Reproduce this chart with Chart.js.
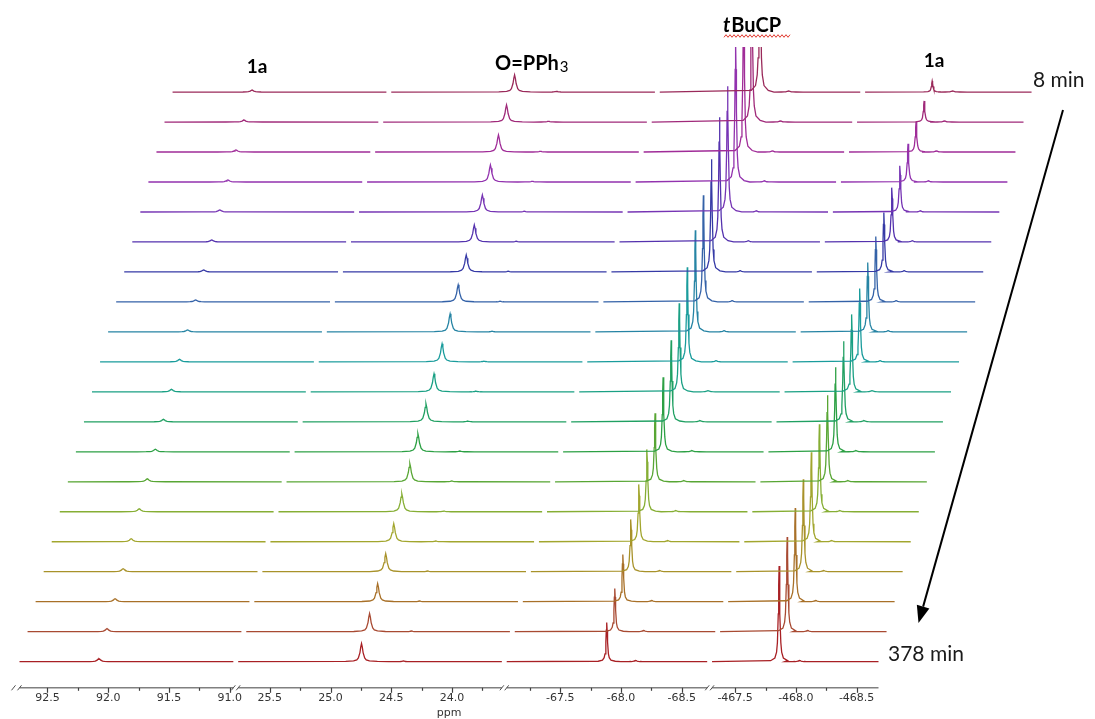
<!DOCTYPE html>
<html>
<head>
<meta charset="utf-8">
<title>31P NMR stack</title>
<script src="https://cdn.jsdelivr.net/npm/chart.js@4.4.1/dist/chart.umd.min.js"></script>
<style>
  html, body { margin: 0; padding: 0; background: #fff; }
</style>
</head>
<body>
<canvas id="stackChart" width="1095" height="719"></canvas>
<script>
// traces ordered by reaction time: first = 8 min (top of stack), last = 378 min (bottom)
var traceColors = [
    '#9a2a5a', '#a02a7a', '#a02c98', '#9232ae', '#7634b4',
    '#5432ae', '#363aa6', '#3462a8', '#2684a4', '#1a9c9c',
    '#1aa084', '#20a062', '#2ca044', '#58a634', '#86ae34',
    '#a2a62e', '#a8922a', '#a87028', '#a84a32', '#a82024'
];
var tbucpHeights = [170, 160, 150, 140, 125, 124, 112, 106, 101, 94, 88, 81, 74, 68, 62, 57, 52, 47, 43, 39];
var highField1aHeights = [11, 21, 30, 38, 46, 54, 59, 65, 69, 73, 77, 80, 84, 86, 87, 89, 92, 93, 94, 95];
var oPPh3Heights = [17, 17, 17, 17, 17, 17, 17, 17, 18, 18, 18, 18, 18, 18, 18, 18, 18, 18, 18, 18];
var lowField1aHeights = [2, 2, 2, 2, 2, 2, 2, 2, 2, 2.5, 2.5, 2.5, 2.5, 3, 3, 3, 3, 3, 3, 3];

// chemical shifts (ppm) and half widths (ppm)
var shifts = { lowField1a: 92.076, oPPh3: 24.745, tBuCP: -67.883, highField1a: -467.862 };
var halfWidths = { lowField1a: 0.015, oPPh3: 0.013, tBuCP: 0.007, highField1a: 0.007 };
// small signals present in every trace: [ppm, height]
var minorSignals = [[24.40, 0.7], [-68.12, 1.2], [-468.03, 1.2]];

// broken ppm axis
var axisSegments = [[92.73, 90.97], [25.76, 23.59], [-67.06, -68.71], [-467.31, -468.68]];
var majorTicks = ['92.5', '92.0', '91.5', '91.0', '25.5', '25.0', '24.5', '24.0',
                  '-67.5', '-68.0', '-68.5', '-467.5', '-468.0', '-468.5'];
var minorTicks = [92.25, 91.75, 91.25, 25.25, 24.75, 24.25, 23.75,
                  -67.25, -67.75, -68.25, -467.75, -468.25];
var timeLabels = ['8 min', '378 min'];

// Lorentzian line shape: [offset in half widths, relative height]
var lineShape = [[-10, 0.01], [-5, 0.038], [-3, 0.1], [-2, 0.2], [-1, 0.5], [-0.5, 0.8], [0, 1],
                 [0.5, 0.8], [1, 0.5], [2, 0.2], [3, 0.1], [5, 0.038], [10, 0.01]];

var breakGap = 0.04;     // gap between axis pieces, ppm units
var stackDx = 0.0663;    // horizontal shift per trace
var stackDy = 29.8;      // vertical shift per trace

// position of each axis piece on a continuous scale
var segU = [];
(function () {
    var acc = 0;
    axisSegments.forEach(function (seg) {
        segU.push(acc);
        acc += (seg[0] - seg[1]) + breakGap;
    });
})();

function ppmToU(ppm) {
    for (var j = 0; j < axisSegments.length; j++) {
        var seg = axisSegments[j];
        if (ppm <= seg[0] + 1e-9 && ppm >= seg[1] - 1e-9) return segU[j] + seg[0] - ppm;
    }
    return null;
}

var tickList = majorTicks.map(function (t) { return { u: ppmToU(parseFloat(t)), label: t, major: true }; })
    .concat(minorTicks.map(function (p) { return { u: ppmToU(p), label: '', major: false }; }));

var N = traceColors.length;

var datasets = traceColors.map(function (color, k) {
    var s = N - 1 - k;
    var dx = s * stackDx, dy = s * stackDy;
    var peaks = [
        [shifts.lowField1a, lowField1aHeights[k], halfWidths.lowField1a],
        [shifts.oPPh3, oPPh3Heights[k], halfWidths.oPPh3],
        [shifts.tBuCP, tbucpHeights[k], halfWidths.tBuCP],
        [shifts.highField1a, highField1aHeights[k], halfWidths.highField1a]
    ].concat(minorSignals.map(function (m) { return [m[0], m[1], 0.012]; }));

    var pts = [];
    axisSegments.forEach(function (seg) {
        var inSeg = peaks.filter(function (p) { return p[0] <= seg[0] && p[0] >= seg[1]; })
                         .sort(function (a, b) { return b[0] - a[0]; });
        pts.push({ x: ppmToU(seg[0]) + dx, y: dy });
        inSeg.forEach(function (p) {
            var uc = ppmToU(p[0]) + dx;
            lineShape.forEach(function (ls) {
                pts.push({ x: uc + ls[0] * p[2], y: dy + ls[1] * p[1] });
            });
        });
        pts.push({ x: ppmToU(seg[1]) + dx, y: dy });
        pts.push({ x: ppmToU(seg[1]) + dx, y: null });
    });

    return {
        label: 'trace ' + (k + 1),
        data: pts,
        borderColor: color,
        borderWidth: 1.3,
        pointRadius: 0,
        tension: 0,
        spanGaps: false,
        fill: false
    };
});

// axis line, tick marks, break marks and annotations
var nmrOverlay = {
    id: 'nmrOverlay',
    afterDraw: function (chart) {
        var ctx = chart.ctx;
        var xs = chart.scales.x;
        var yb = chart.chartArea.bottom;
        ctx.save();

        ctx.strokeStyle = '#808080';
        ctx.lineWidth = 1.6;
        axisSegments.forEach(function (seg) {
            ctx.beginPath();
            ctx.moveTo(xs.getPixelForValue(ppmToU(seg[0])), yb);
            ctx.lineTo(xs.getPixelForValue(ppmToU(seg[1])), yb);
            ctx.stroke();
        });

        ctx.strokeStyle = '#404040';
        ctx.lineWidth = 1.2;
        tickList.forEach(function (t) {
            var x = Math.round(xs.getPixelForValue(t.u)) + 0.5;
            ctx.beginPath();
            ctx.moveTo(x, yb);
            ctx.lineTo(x, yb + (t.major ? 5 : 3));
            ctx.stroke();
        });

        // break marks
        ctx.strokeStyle = '#505050';
        ctx.lineWidth = 1;
        var marks = [xs.getPixelForValue(ppmToU(axisSegments[0][0])) - 6];
        axisSegments.forEach(function (seg, j) {
            marks.push(xs.getPixelForValue(ppmToU(seg[0])));
            if (j < axisSegments.length - 1) marks.push(xs.getPixelForValue(ppmToU(seg[1])));
        });
        marks.forEach(function (x) {
            ctx.beginPath();
            ctx.moveTo(x - 2, yb + 2.5);
            ctx.lineTo(x + 2, yb - 2.5);
            ctx.stroke();
        });

        var axisMid = (xs.getPixelForValue(0) +
            xs.getPixelForValue(ppmToU(axisSegments[axisSegments.length - 1][1]))) / 2;
        ctx.fillStyle = '#333';
        ctx.font = '11px "DejaVu Sans"';
        ctx.textAlign = 'center';
        ctx.textBaseline = 'alphabetic';
        ctx.fillText('ppm', axisMid, 716);

        // signal labels
        ctx.fillStyle = '#000';
        ctx.font = 'bold 19px Lato';
        ctx.fillText('1a', 257, 73);
        ctx.fillText('1a', 934, 67);

        ctx.textAlign = 'left';
        ctx.font = 'bold 20px Lato';
        ctx.fillText('O=PPh', 495, 70);
        var w = ctx.measureText('O=PPh').width;
        ctx.font = '15px Lato';
        ctx.fillText('3', 495 + w + 1, 72);

        ctx.font = 'italic bold 20px Lato';
        ctx.fillText('t', 723, 32);
        var wt = ctx.measureText('t').width;
        ctx.font = 'bold 20px Lato';
        ctx.fillText('BuCP', 723 + wt + 1, 32);

        // spell-check squiggle under tBuCP
        ctx.strokeStyle = '#e03a30';
        ctx.lineWidth = 1;
        ctx.beginPath();
        for (var x = 724, i = 0; x <= 790; x += 2, i++) {
            var y = 36 + (i % 2 ? -1.3 : 1.3);
            if (i === 0) ctx.moveTo(x, y); else ctx.lineTo(x, y);
        }
        ctx.stroke();

        // time labels and arrow
        ctx.fillStyle = '#1a1a1a';
        ctx.font = '21px Lato';
        ctx.fillText(timeLabels[0], 1033, 87);
        ctx.fillText(timeLabels[1], 888, 661);

        var x0 = 1063, y0 = 110, x1 = 918.5, y1 = 623;
        var ang = Math.atan2(y1 - y0, x1 - x0);
        var headLen = 17, headHalf = 6.5;
        var bx = x1 - headLen * Math.cos(ang), by = y1 - headLen * Math.sin(ang);
        ctx.strokeStyle = '#000';
        ctx.lineWidth = 2;
        ctx.beginPath();
        ctx.moveTo(x0, y0);
        ctx.lineTo(bx, by);
        ctx.stroke();
        ctx.fillStyle = '#000';
        ctx.beginPath();
        ctx.moveTo(x1, y1);
        ctx.lineTo(bx + headHalf * Math.sin(ang), by - headHalf * Math.cos(ang));
        ctx.lineTo(bx - headHalf * Math.sin(ang), by + headHalf * Math.cos(ang));
        ctx.closePath();
        ctx.fill();

        ctx.restore();
    }
};

var pxPerUnit = 121.5;
var axisLeftPx = 19.5;

var ctx = document.getElementById('stackChart').getContext('2d');
var stackChart = new Chart(ctx, {
    type: 'line',
    data: { datasets: datasets },
    options: {
        responsive: false,
        animation: false,
        devicePixelRatio: 1,
        layout: { padding: { top: 47, bottom: 10, left: 0, right: 0 } },
        plugins: {
            legend: { display: false },
            tooltip: { enabled: false }
        },
        scales: {
            x: {
                type: 'linear',
                min: -axisLeftPx / pxPerUnit,
                max: (1095 - axisLeftPx) / pxPerUnit,
                grid: { display: false, drawTicks: false },
                border: { display: false },
                afterBuildTicks: function (scale) {
                    scale.ticks = tickList.map(function (t) { return { value: t.u }; });
                },
                ticks: {
                    autoSkip: false,
                    maxRotation: 0,
                    padding: 4,
                    color: '#333',
                    font: { family: 'DejaVu Sans', size: 11 },
                    callback: function (value, index) { return tickList[index].label; }
                }
            },
            y: {
                display: false,
                min: -26,
                max: 611
            }
        }
    },
    plugins: [nmrOverlay]
});
</script>
</body>
</html>
